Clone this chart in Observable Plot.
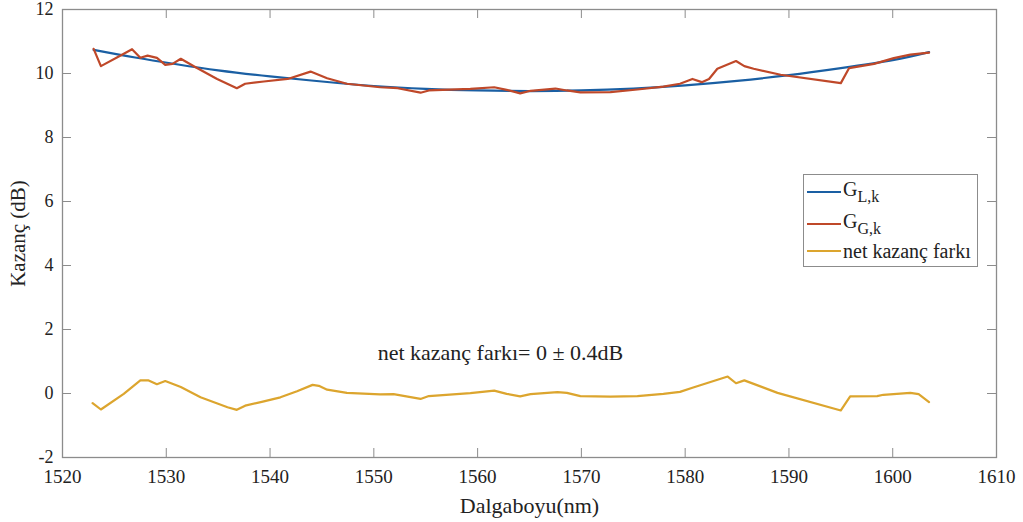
<!DOCTYPE html>
<html>
<head>
<meta charset="utf-8">
<script src="https://cdn.jsdelivr.net/npm/d3@7"></script>
<script src="https://cdn.jsdelivr.net/npm/@observablehq/plot@0.6"></script>
<style>
  html, body { margin: 0; padding: 0; background: #fff; }
  #wrap { position: relative; width: 1023px; height: 522px; font-family: 'Liberation Serif', 'Times New Roman', serif; }
  #wrap svg text { font-family: 'Liberation Serif', 'Times New Roman', serif; }
  #legend {
    position: absolute; left: 803px; top: 174px; width: 175px; height: 93px;
    border: 1px solid #8c8c8c; background: #fff; box-sizing: border-box;
    font-size: 20px; color: #222;
  }
  .row { position: absolute; left: 3px; height: 24px; display: flex; align-items: center; white-space: nowrap; }
  .row svg { width: 34px; height: 10px; margin-right: 2px; }
  .row sub { font-size: 16px; vertical-align: -6px; }
</style>
</head>
<body>
<div id="wrap"></div>
<script>
// Wavelength axis (nm) and gain axis (dB)
const xTicks = [1520, 1530, 1540, 1550, 1560, 1570, 1580, 1590, 1600, 1610];
const yTicks = [-2, 0, 2, 4, 6, 8, 10, 12];

// G_L,k : smooth target gain profile
const gLWave = [1523, 1527, 1531, 1535, 1540, 1545, 1550, 1555, 1560, 1565, 1570, 1575, 1580, 1585, 1590, 1595, 1600, 1603.5];
const gLGain = [10.74, 10.50, 10.29, 10.10, 9.91, 9.75, 9.61, 9.52, 9.47, 9.45, 9.47, 9.53, 9.63, 9.77, 9.95, 10.17, 10.42, 10.67];

// G_G,k : measured gain
const gGWave = [1523.0, 1523.7, 1525.6, 1526.7, 1527.5, 1528.2, 1529.1, 1529.9, 1530.6, 1531.4, 1532.7, 1534.9, 1536.8, 1537.6, 1539.4, 1541.7, 1543.9, 1545.5, 1547.4, 1550.6, 1552.3, 1554.5, 1555.3, 1559.3, 1561.6, 1562.8, 1564.1, 1565.1, 1567.5, 1568.6, 1569.9, 1572.8, 1575.4, 1577.9, 1579.5, 1580.7, 1581.6, 1582.3, 1583.1, 1584.9, 1585.7, 1586.6, 1589.2, 1595.0, 1595.8, 1598.2, 1600.1, 1601.7, 1603.5];
const gGGain = [10.77, 10.23, 10.56, 10.76, 10.49, 10.56, 10.49, 10.27, 10.30, 10.46, 10.22, 9.83, 9.54, 9.68, 9.75, 9.83, 10.06, 9.85, 9.68, 9.57, 9.54, 9.40, 9.47, 9.52, 9.57, 9.49, 9.38, 9.46, 9.53, 9.47, 9.41, 9.42, 9.50, 9.59, 9.68, 9.83, 9.73, 9.83, 10.15, 10.39, 10.23, 10.15, 9.96, 9.70, 10.17, 10.30, 10.48, 10.59, 10.65];

// net kazanç farkı : gain difference
const netWave = [1522.9, 1523.7, 1525.9, 1527.5, 1528.3, 1529.1, 1529.9, 1531.4, 1533.3, 1535.9, 1536.8, 1537.6, 1539.1, 1541.0, 1542.6, 1544.1, 1544.7, 1545.5, 1547.4, 1550.6, 1551.9, 1554.5, 1555.3, 1559.3, 1561.6, 1562.8, 1564.1, 1565.1, 1567.7, 1568.6, 1569.9, 1572.8, 1575.4, 1577.9, 1579.5, 1580.7, 1584.1, 1584.9, 1585.7, 1588.9, 1595.0, 1595.9, 1598.5, 1599.1, 1601.7, 1602.5, 1603.5];
const netGain = [-0.30, -0.50, -0.01, 0.41, 0.41, 0.29, 0.39, 0.20, -0.12, -0.43, -0.51, -0.38, -0.27, -0.12, 0.07, 0.27, 0.24, 0.12, 0.02, -0.03, -0.02, -0.17, -0.08, 0.01, 0.09, -0.01, -0.09, -0.02, 0.04, 0.02, -0.08, -0.10, -0.08, -0.01, 0.05, 0.18, 0.53, 0.32, 0.41, 0.02, -0.53, -0.09, -0.08, -0.04, 0.02, -0.02, -0.27];

const seriesNames = ["G_L,k", "G_G,k", "net kazanç farkı"];
const seriesColors = ["#1a5fa3", "#bf4829", "#dca52e"];

const annotation = { wave: 1562.2, gain: 1.28, text: "net kazanç farkı= 0 ± 0.4dB" };

const toRows = (xs, ys) => xs.map((x, i) => ({ x, y: ys[i] }));
const gL = toRows(gLWave, gLGain);
const gG = toRows(gGWave, gGGain);
const net = toRows(netWave, netGain);

const W = 1023, H = 522;
const mL = 62, mR = 27, mT = 9, mB = 65;
const frameW = W - mL - mR, frameH = H - mT - mB;
const tickLen = 9;
const axisGray = "#8c8c8c";
const serif = "'Liberation Serif', 'Times New Roman', serif";

const chart = Plot.plot({
  width: W,
  height: H,
  marginLeft: mL,
  marginRight: mR,
  marginTop: mT,
  marginBottom: mB,
  style: { fontFamily: serif, fontSize: "19px", color: "#222", background: "#fff" },
  x: { domain: [1520, 1610] },
  y: { domain: [-2, 12] },
  marks: [
    // inward ticks on all four sides
    Plot.tickX(xTicks, { x: d => d, stroke: axisGray, insetTop: frameH - tickLen }),
    Plot.tickX(xTicks, { x: d => d, stroke: axisGray, insetBottom: frameH - tickLen }),
    Plot.tickY(yTicks, { y: d => d, stroke: axisGray, insetRight: frameW - tickLen }),
    Plot.tickY(yTicks, { y: d => d, stroke: axisGray, insetLeft: frameW - tickLen }),
    Plot.axisX({ ticks: xTicks, tickSize: 0, tickPadding: 12, label: null, tickFormat: d => String(d) }),
    Plot.axisY({ ticks: yTicks, tickSize: 0, tickPadding: 9, label: null, tickFormat: d => String(d), fontSize: 18 }),
    Plot.frame({ stroke: axisGray, strokeWidth: 1.3 }),
    Plot.line(gL, { x: "x", y: "y", stroke: seriesColors[0], strokeWidth: 2.2, curve: "natural" }),
    Plot.line(gG, { x: "x", y: "y", stroke: seriesColors[1], strokeWidth: 2.2 }),
    Plot.line(net, { x: "x", y: "y", stroke: seriesColors[2], strokeWidth: 2.2 }),
    Plot.text([annotation], { x: "wave", y: "gain", text: "text", fontSize: 22, fill: "#222" }),
    Plot.text(["Dalgaboyu(nm)"], { frameAnchor: "bottom", text: d => d, textAnchor: "middle", lineAnchor: "middle", dy: 48, fontSize: 22, fill: "#222" }),
    Plot.text(["Kazanç (dB)"], { frameAnchor: "left", text: d => d, textAnchor: "middle", lineAnchor: "middle", dx: -44, rotate: -90, fontSize: 21, fill: "#222" })
  ]
});

const wrap = document.getElementById("wrap");
wrap.appendChild(chart);

// legend box
const legend = document.createElement("div");
legend.id = "legend";
const labelsHtml = [
  'G<sub>L,k</sub>',
  'G<sub>G,k</sub>',
  'net kazanç farkı'
];
const rowTops = [5, 37, 64];
seriesNames.forEach((name, i) => {
  const row = document.createElement("div");
  row.className = "row";
  row.style.top = rowTops[i] + "px";
  row.title = name;
  row.innerHTML = `<svg viewBox="0 0 34 10"><line x1="0" y1="5" x2="34" y2="5" stroke="${seriesColors[i]}" stroke-width="2.2"/></svg><span>${labelsHtml[i]}</span>`;
  legend.appendChild(row);
});
wrap.appendChild(legend);
</script>
</body>
</html>
